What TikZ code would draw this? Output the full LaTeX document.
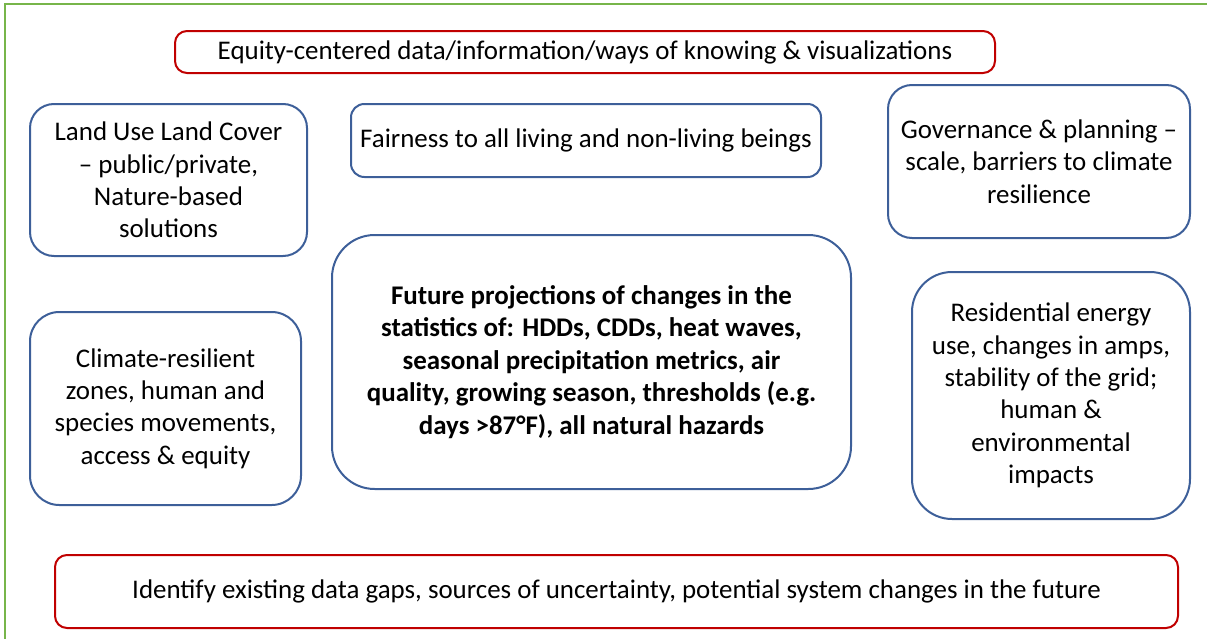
\documentclass[tikz,border=0pt]{standalone}
\usepackage{fontspec}
\setmainfont{Carlito}
\usetikzlibrary{positioning}
\definecolor{frame colour}{HTML}{77B54A}
\definecolor{topic colour}{HTML}{3D5F99}
\definecolor{aim colour}{HTML}{C00000}
\tikzset{
    % Text of all the boxes
    every node/.style={align=center},
    box text/.style={font=\fontsize{20.2}{24.3}\selectfont},
    bold text/.style={font=\fontsize{20.2}{24.3}\selectfont\bfseries},
%
    % Blue rounded boxes round the centre
    topic/.style={
        draw=topic colour, line width=1.5pt, box text, inner sep=0pt},
    % Red boxes at top and bottom
    aim/.style={
        draw=aim colour, line width=1.5pt, box text, inner sep=0pt,
        rounded corners=9pt},
    frame/.style={draw=frame colour, line width=1.5pt},
}

\begin{document}
\begin{tikzpicture}[
    x=0.75pt, y=-0.75pt]

\useasboundingbox (0,0) rectangle (1207,639);
\draw [frame] (5,660) -- (5,4) -- (1230,4);

\path
    (585,52) node [aim, minimum width=615pt, minimum height=31.5pt] (equity)
        {Equity-centered data/information/ways of knowing \& visualizations}
    (168.5,180) node [topic, rounded corners=18pt,
        minimum width=207.75pt, minimum height=114pt] (land use)
        {Land Use Land Cover\\ -- public/private,\\ Nature-based\\ solutions}
    (586,140.5) node [topic, rounded corners=10pt,
        minimum width=352.5pt, minimum height=54.75pt] (fairness)
        {Fairness to all living and non-living beings}
    (1039,161.5) node [topic, rounded corners=18pt,
        minimum width=226.5pt, minimum height=114.75pt] (governance)
        {Governance \& planning --\\ scale, barriers to climate\\ resilience}
    (165.5,408.5) node [topic, rounded corners=22pt,
        minimum width=203.25pt, minimum height=144.75pt] (resilient)
        {Climate-resilient\\ zones, human and\\ species movements,\\ access \& equity}
    (591.5,362) node [topic, rounded corners=32pt, bold text,
        minimum width=389.25pt, minimum height=190.5pt] (projections)
        {Future projections of changes in the\\
         statistics of: HDDs, CDDs, heat waves,\\
         seasonal precipitation metrics, air\\
         quality, growing season, thresholds (e.g.\\
         days >87°F), all natural hazards}
    (1051,395.5) node [topic, rounded corners=30pt,
        minimum width=208.5pt, minimum height=185.25pt] (energy)
        {Residential energy\\ use, changes in amps,\\ stability of the grid;\\
         human \&\\ environmental\\ impacts}
    (616.5,591.5) node [aim, minimum width=842.25pt, minimum height=54.75pt] (gaps)
        {Identify existing data gaps, sources of uncertainty, potential system changes in the future};

\end{tikzpicture}
\end{document}
